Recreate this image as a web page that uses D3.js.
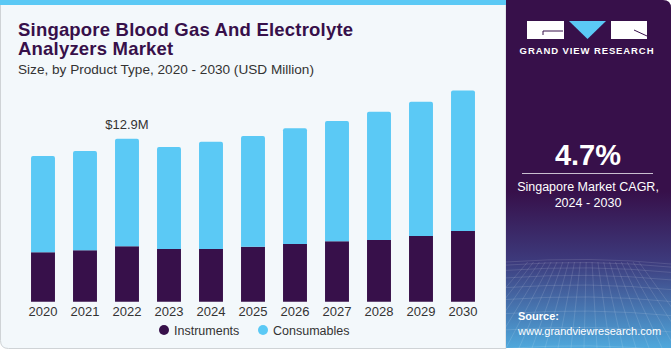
<!DOCTYPE html>
<html>
<head>
<meta charset="utf-8">
<script src="https://cdn.jsdelivr.net/npm/d3@7"></script>
<style>
  body { margin: 0; padding: 0; background: #fff; }
  svg { display: block; font-family: "Liberation Sans", Arial, sans-serif; }
</style>
</head>
<body>
<script>
// chart data (USD Million)
const years = ['2020', '2021', '2022', '2023', '2024', '2025', '2026', '2027', '2028', '2029', '2030'];
const instruments = [3.91, 4.07, 4.38, 4.17, 4.17, 4.35, 4.56, 4.78, 4.88, 5.20, 5.59];
const consumables = [7.62, 7.85, 8.52, 8.07, 8.49, 8.76, 9.16, 9.52, 10.15, 10.62, 11.13];
const seriesNames = ['Instruments', 'Consumables'];
const seriesColors = ['#37104a', '#5bc9f5'];
const calloutYear = '2022';
const calloutText = '$12.9M';

const width = 671;
const height = 350;

const svg = d3.select('body').append('svg')
    .attr('width', width)
    .attr('height', height);

// left panel background
svg.append('path')
    .attr('d', 'M0.5,0 H506 V348.5 H8.5 Q0.5,348.5 0.5,340.5 Z')
    .attr('fill', '#f3f8fb')
    .attr('stroke', '#cfd3d6');
svg.append('rect')
    .attr('x', 0).attr('y', 0).attr('width', 506).attr('height', 5)
    .attr('fill', '#5bc9f5');

// right panel
const defs = svg.append('defs');
const grad = defs.append('linearGradient').attr('id', 'panelGrad')
    .attr('x1', 0).attr('y1', 0).attr('x2', 0).attr('y2', 1);
grad.append('stop').attr('offset', '0%').attr('stop-color', '#37104a');
grad.append('stop').attr('offset', '55%').attr('stop-color', '#37104a');
grad.append('stop').attr('offset', '75%').attr('stop-color', '#3d3a7c');
grad.append('stop').attr('offset', '100%').attr('stop-color', '#4fa8dc');

svg.append('path')
    .attr('d', 'M506,0 H663 Q671,0 671,8 V348 H506 Z')
    .attr('fill', 'url(#panelGrad)');

// faint grid mesh on the lower part of the panel
const mesh = svg.append('g').attr('stroke', '#ffffff').attr('stroke-opacity', 0.12).attr('fill', 'none');
d3.range(0, 9).forEach(i => {
    const y = 262 + i * i * 1.1 + i * 2;
    mesh.append('path').attr('d', `M506,${y} Q590,${y - 6} 671,${y + 2}`);
});
d3.range(-4, 16).forEach(i => {
    const x = 506 + i * 13;
    mesh.append('path').attr('d', `M${588 + (x - 588) * 0.45},262 L${x},348`);
});

// logo
const logo = svg.append('g');
logo.append('rect').attr('x', 527).attr('y', 21).attr('width', 37).attr('height', 18).attr('fill', '#fff');
logo.append('path').attr('d', 'M543,31 V35 M543,31 H563').attr('stroke', '#37104a').attr('stroke-width', 1);
logo.append('path').attr('d', 'M569,21 H606 L587.5,39 Z').attr('fill', '#5bc9f5');
logo.append('rect').attr('x', 611).attr('y', 21).attr('width', 36).attr('height', 18).attr('fill', '#fff');
logo.append('path').attr('d', 'M634,30 L647,36').attr('stroke', '#37104a').attr('stroke-width', 1);
logo.append('text')
    .attr('x', 587).attr('y', 54)
    .attr('text-anchor', 'middle')
    .attr('fill', '#fff')
    .attr('font-size', 9.5)
    .attr('font-weight', 'bold')
    .attr('letter-spacing', 0.9)
    .text('GRAND VIEW RESEARCH');

// CAGR block
svg.append('text')
    .attr('x', 588).attr('y', 165)
    .attr('text-anchor', 'middle')
    .attr('fill', '#fff')
    .attr('font-size', 29)
    .attr('font-weight', 'bold')
    .text('4.7%');
svg.append('line')
    .attr('x1', 522).attr('x2', 653).attr('y1', 173.5).attr('y2', 173.5)
    .attr('stroke', '#c9bfd0').attr('stroke-width', 1);
svg.append('text')
    .attr('x', 588).attr('y', 191)
    .attr('text-anchor', 'middle')
    .attr('fill', '#fff')
    .attr('font-size', 12.5)
    .text('Singapore Market CAGR,');
svg.append('text')
    .attr('x', 588).attr('y', 207)
    .attr('text-anchor', 'middle')
    .attr('fill', '#fff')
    .attr('font-size', 12.5)
    .text('2024 - 2030');

// source
svg.append('text')
    .attr('x', 518).attr('y', 320)
    .attr('fill', '#fff')
    .attr('font-size', 11)
    .attr('font-weight', 'bold')
    .text('Source:');
svg.append('text')
    .attr('x', 518).attr('y', 335)
    .attr('fill', '#fff')
    .attr('font-size', 11)
    .text('www.grandviewresearch.com');

// titles
svg.append('text')
    .attr('x', 18).attr('y', 36)
    .attr('fill', '#37104a')
    .attr('font-size', 18.5)
    .attr('font-weight', 'bold')
    .attr('letter-spacing', 0.2)
    .text('Singapore Blood Gas And Electrolyte');
svg.append('text')
    .attr('x', 18).attr('y', 55)
    .attr('fill', '#37104a')
    .attr('font-size', 18.5)
    .attr('font-weight', 'bold')
    .attr('letter-spacing', 0.2)
    .text('Analyzers Market');
svg.append('text')
    .attr('x', 18).attr('y', 74)
    .attr('fill', '#333')
    .attr('font-size', 13.6)
    .text('Size, by Product Type, 2020 - 2030 (USD Million)');

// scales
const x = d3.scaleBand()
    .domain(years)
    .range([22, 484])
    .paddingInner(0.43)
    .paddingOuter(0.215);

const y = d3.scaleLinear()
    .domain([0, 12.9])
    .range([301.7, 138.7]);

const rows = years.map((yr, i) => ({year: yr, Instruments: instruments[i], Consumables: consumables[i]}));
const stacked = d3.stack().keys(seriesNames)(rows);

const bars = svg.append('g');
stacked.forEach((layer, li) => {
    bars.selectAll(null)
        .data(layer)
        .enter().append('path')
        .attr('fill', seriesColors[li])
        .attr('d', d => {
            const x0 = x(d.data.year);
            const w = x.bandwidth();
            const top = y(d[1]);
            const bot = y(d[0]);
            const r = li === seriesNames.length - 1 ? 2 : 0;
            return `M${x0},${bot} V${top + r} Q${x0},${top} ${x0 + r},${top} H${x0 + w - r} Q${x0 + w},${top} ${x0 + w},${top + r} V${bot} Z`;
        });
});

// callout
const ci = years.indexOf(calloutYear);
svg.append('text')
    .attr('x', x(calloutYear) + x.bandwidth() / 2)
    .attr('y', y(instruments[ci] + consumables[ci]) - 10)
    .attr('text-anchor', 'middle')
    .attr('fill', '#333')
    .attr('font-size', 13)
    .text(calloutText);

// x axis labels
const xAxis = svg.append('g')
    .attr('transform', 'translate(0,302)')
    .call(d3.axisBottom(x).tickSize(0).tickPadding(5));
xAxis.select('.domain').remove();
xAxis.selectAll('text')
    .attr('fill', '#333')
    .attr('font-size', 13)
    .attr('font-family', '"Liberation Sans", Arial, sans-serif');

// legend
const legendX = [164, 263];
const legend = svg.append('g');
seriesNames.forEach((name, i) => {
    legend.append('circle')
        .attr('cx', legendX[i]).attr('cy', 330).attr('r', 5)
        .attr('fill', seriesColors[i]);
    legend.append('text')
        .attr('x', legendX[i] + 10).attr('y', 334.5)
        .attr('fill', '#333')
        .attr('font-size', 12.5)
        .text(name);
});
</script>
</body>
</html>
